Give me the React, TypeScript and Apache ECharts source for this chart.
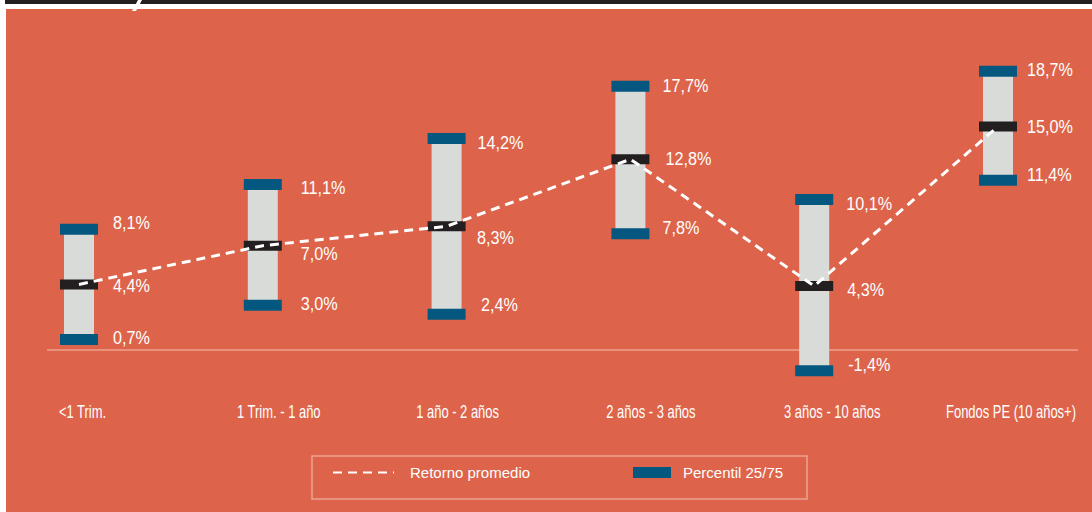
import React, { useEffect, useRef } from 'react';
import * as echarts from 'echarts';

const categories = ['<1 Trim.', '1 Trim. - 1 año', '1 año - 2 años', '2 años - 3 años', '3 años - 10 años', 'Fondos PE (10 años+)'];
const p25 = [0.7, 3.0, 2.4, 7.8, -1.4, 11.4];
const median = [4.4, 7.0, 8.3, 12.8, 4.3, 15.0];
const p75 = [8.1, 11.1, 14.2, 17.7, 10.1, 18.7];
const avgReturn = [4.4, 7.0, 8.3, 12.8, 4.3, 15.0];

const BG = '#DD644A';
const BLUE = '#04587F';
const GRAY = '#D9DBD8';
const BLACK = '#231F20';
const FONT = '"Liberation Sans", Arial, sans-serif';
// layout only: horizontal nudges of the category labels
const labelShift = [3.5, 16, 11, 20.5, 18, 13];
// layout only: value-label nudges per bar, [top, middle, bottom]
const valueDx = [[34, 34, 34], [38, 38, 38], [31, 30.5, 34.5], [32, 35, 32], [32, 33, 34], [29, 29, 29]];
const valueDy = [[-6, 2, -1], [3.5, 8.5, -1.5], [4.5, 11.5, -9.5], [0, -0.5, -6], [4.5, 4, -5.5], [-1, 1, -5]];

const fmt = (v: number) => v.toFixed(1).replace('.', ',') + '%';

export default function App() {
  const ref = useRef<HTMLDivElement>(null);
  useEffect(() => {
    document.body.style.margin = '0';
    const chart = echarts.init(ref.current!, null, { renderer: 'svg' });
    const option: any = {
      animation: false,
      backgroundColor: '#ffffff',
      graphic: [
        { type: 'rect', shape: { x: 6, y: 9, width: 1086, height: 503 }, style: { fill: BG }, z: -10 },
        { type: 'rect', shape: { x: 5, y: 0, width: 1087, height: 4 }, style: { fill: BLACK }, z: -10 },
        { type: 'polygon', shape: { points: [[138, 0], [142, 0], [136, 11], [132, 11]] }, style: { fill: '#ffffff' }, z: -9 },
        { type: 'rect', shape: { x: 312, y: 456, width: 495, height: 43 }, style: { fill: 'none', stroke: '#EBA392', lineWidth: 1.5 }, z: -5 },
      ],
      grid: { left: 79, right: 94, top: 52, bottom: 132.2, containLabel: false },
      xAxis: {
        type: 'category',
        data: categories,
        boundaryGap: false,
        axisLine: { show: false },
        axisTick: { show: false },
        splitLine: { show: false },
        axisLabel: { show: false },
      },
      yAxis: { type: 'value', min: -2, max: 20, show: false, splitLine: { show: false } },
      legend: [
        {
          data: ['Retorno promedio'],
          left: 332, top: 465, padding: 0,
          itemWidth: 61, itemHeight: 14,
          selectedMode: false,
          itemStyle: { opacity: 0 },
          textStyle: { color: '#fff', fontSize: 15, fontFamily: FONT, padding: [0, 0, 0, 11] },
        },
        {
          data: [{ name: 'Percentil 25/75', icon: 'rect' }],
          left: 633, top: 465, padding: 0,
          itemWidth: 38, itemHeight: 11,
          selectedMode: false,
          textStyle: { color: '#fff', fontSize: 15, fontFamily: FONT, padding: [0, 0, 0, 7] },
        },
      ],
      series: [
        {
          type: 'custom',
          name: 'zero',
          z: 1,
          data: [[0, 0]],
          renderItem: (params: any, api: any) => {
            const a = api.coord([0, 0]);
            const b = api.coord([categories.length - 1, 0]);
            return {
              type: 'line',
              shape: { x1: a[0] - 32, y1: a[1], x2: b[0] + 80, y2: a[1] },
              style: { stroke: '#ECA08E', lineWidth: 1.5 },
            };
          },
        },
        {
          type: 'custom',
          name: 'Percentil 25/75',
          z: 3,
          itemStyle: { color: BLUE },
          encode: { x: 0, y: [1, 2, 3] },
          data: categories.map((c, i) => [i, p25[i], median[i], p75[i]]),
          renderItem: (params: any, api: any) => {
            const i = api.value(0);
            const lo = api.coord([i, api.value(1)]);
            const mid = api.coord([i, api.value(2)]);
            const hi = api.coord([i, api.value(3)]);
            const base = api.coord([i, -2]);
            const cx = lo[0];
            const txt = (k: number, y: number, v: number) => ({
              type: 'text',
              x: cx + valueDx[i][k],
              y: y + valueDy[i][k],
              scaleX: 0.9,
              style: { text: fmt(v), fill: '#ffffff', fontSize: 18, fontFamily: FONT, verticalAlign: 'middle', align: 'left' },
            });
            return {
              type: 'group',
              children: [
                { type: 'rect', shape: { x: cx - 15, y: hi[1], width: 30, height: lo[1] - hi[1] }, style: { fill: GRAY } },
                { type: 'rect', shape: { x: cx - 19, y: hi[1] - 5.5, width: 38, height: 11 }, style: { fill: BLUE } },
                { type: 'rect', shape: { x: cx - 19, y: lo[1] - 5.5, width: 38, height: 11 }, style: { fill: BLUE } },
                { type: 'rect', shape: { x: cx - 19, y: mid[1] - 5, width: 38, height: 10 }, style: { fill: BLACK } },
                txt(0, hi[1], api.value(3)),
                txt(1, mid[1], api.value(2)),
                txt(2, lo[1], api.value(1)),
                {
                  type: 'text',
                  x: cx + labelShift[i],
                  y: base[1] + 31.5,
                  scaleX: 0.72,
                  style: { text: categories[i], fill: '#ffffff', fontSize: 18, fontFamily: FONT, verticalAlign: 'middle', align: 'center' },
                },
              ],
            };
          },
        },
        {
          type: 'line',
          name: 'Retorno promedio',
          z: 5,
          data: avgReturn,
          symbol: 'none',
          lineStyle: { color: '#ffffff', width: 3, type: [9, 6] },
          itemStyle: { color: '#ffffff' },
        },
      ],
    };
    chart.setOption(option);
    return () => chart.dispose();
  }, []);
  return <div ref={ref} style={{ position: 'absolute', left: 0, top: 0, width: 1092, height: 512 }} />;
}
